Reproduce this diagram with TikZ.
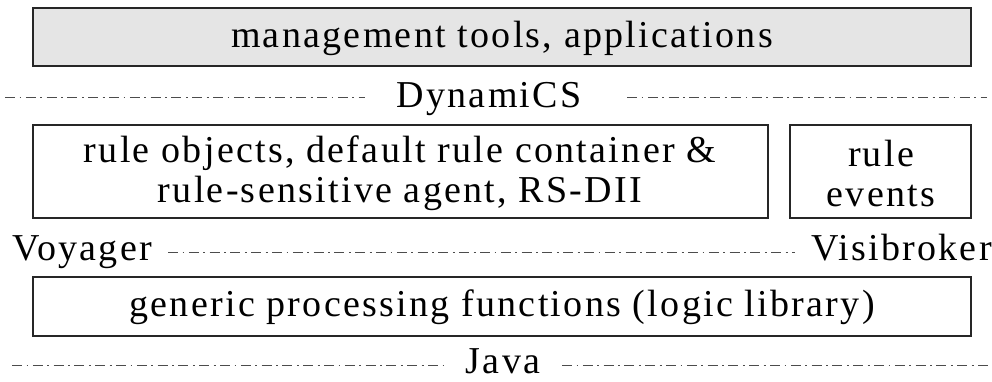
\documentclass[tikz,border=0pt]{standalone}
\usepackage{fontspec}
\setmainfont{Liberation Serif}[LetterSpace=6]
\begin{document}
\begin{tikzpicture}[x=1pt,y=-1pt,
  layerbox/.style={draw=black!85,line width=1.3pt},
  lbl/.style={font=\fontsize{38}{40}\selectfont,inner sep=0pt,align=center},
  sep/.style={draw=black!70,line width=0.9pt,dash pattern=on 10pt off 4.5pt on 1.8pt off 4.5pt}]
\useasboundingbox (0,0) rectangle (992,381);
% top box
\draw[layerbox,fill=black!10] (33,8) rectangle (971,66);
\node[lbl] (mgmt) at (502,38) {management tools, applications};
% DynamiCS line
\node[lbl,anchor=base] (dyn) at (489,107) {DynamiCS};
\coordinate (d1) at (5,97); \coordinate (d2) at (365,97);
\coordinate (d3) at (627,97); \coordinate (d4) at (987,97);
\draw[sep] (d1) -- (d2);
\draw[sep] (d3) -- (d4);
% middle boxes
\draw[layerbox] (33,125) rectangle (768,218);
\node[lbl] (rules) at (400,173) {rule objects, default rule container \&\\rule-sensitive agent, RS-DII};
\draw[layerbox] (790,125) rectangle (971,218);
\node[lbl] (events) at (881,173) {rule\\events};
% Voyager / Visibroker line
\node[lbl,anchor=base west] (voy) at (12,260) {Voyager};
\node[lbl,anchor=base east] (visi) at (992,260) {Visibroker};
\coordinate (v1) at (168,252); \coordinate (v2) at (795,252);
\draw[sep] (v1) -- (v2);
% bottom box
\draw[layerbox] (33,277) rectangle (971,336);
\node[lbl] (gen) at (502,307) {generic processing functions (logic library)};
% Java line
\node[lbl,anchor=base] (java) at (503,373) {Java};
\coordinate (j1) at (12,365); \coordinate (j2) at (448,365);
\coordinate (j3) at (562,365); \coordinate (j4) at (990,365);
\draw[sep] (j1) -- (j2);
\draw[sep] (j3) -- (j4);
\end{tikzpicture}
\end{document}
